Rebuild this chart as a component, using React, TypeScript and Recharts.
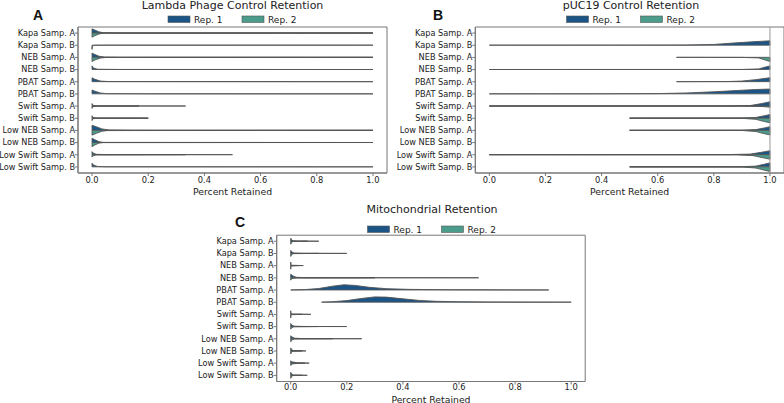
import { ComposedChart, Bar, XAxis, YAxis, ReferenceLine, ReferenceArea, Label } from 'recharts';

// [percent retained, half width of the violin as a fraction of the row height]
type Knot = [number, number];
type Profile = Knot[] | null;

const CATEGORIES = [
  'Kapa Samp. A', 'Kapa Samp. B', 'NEB Samp. A', 'NEB Samp. B',
  'PBAT Samp. A', 'PBAT Samp. B', 'Swift Samp. A', 'Swift Samp. B',
  'Low NEB Samp. A', 'Low NEB Samp. B', 'Low Swift Samp. A', 'Low Swift Samp. B',
];
const X_TICKS = [0, 0.2, 0.4, 0.6, 0.8, 1.0];
const REPS = ['Rep. 1', 'Rep. 2'];
const REP_COLORS = ['#1b5486', '#4b9c8b'];

// Lambda phage control
const lambdaRep1: Profile[] = [
  [[0, 0.35], [0.01, 0.24], [0.025, 0.09], [0.042, 0.02], [0.1, 0.004], [1, 0]],
  null,
  [[0, 0.35], [0.01, 0.24], [0.025, 0.09], [0.044, 0.02], [0.1, 0.004], [1, 0]],
  [[0, 0.3], [0.005, 0.12], [0.02, 0.02], [0.1, 0.003], [1, 0]],
  [[0, 0.32], [0.01, 0.2], [0.03, 0.05], [0.06, 0.008], [1, 0]],
  [[0, 0.32], [0.01, 0.22], [0.03, 0.07], [0.05, 0.015], [0.2, 0.003], [1, 0]],
  [[0, 0.2], [0.004, 0.05], [0.02, 0.01], [0.333, 0]],
  [[0, 0.2], [0.003, 0.05], [0.02, 0.005], [0.2, 0]],
  [[0, 0.42], [0.015, 0.3], [0.035, 0.12], [0.06, 0.03], [0.15, 0.005], [1, 0]],
  [[0, 0.36], [0.01, 0.23], [0.025, 0.07], [0.04, 0.01], [1, 0]],
  [[0, 0.25], [0.005, 0.12], [0.015, 0.03], [0.05, 0.005], [0.5, 0]],
  [[0, 0.3], [0.005, 0.15], [0.02, 0.03], [0.05, 0.005], [1, 0]],
];
const lambdaRep2: Profile[] = [
  [[0, 0.35], [0.01, 0.22], [0.025, 0.08], [0.04, 0.015], [1, 0]],
  [[0, 0.35], [0.001, 0.05], [0.01, 0.01], [0.05, 0.002], [1, 0]],
  [[0, 0.35], [0.01, 0.22], [0.03, 0.06], [0.05, 0.01], [1, 0]],
  null,
  null,
  null,
  [[0, 0.2], [0.004, 0.05], [0.02, 0.01], [0.167, 0]],
  [[0, 0.2], [0.003, 0.05], [0.02, 0.005], [0.2, 0]],
  [[0, 0.4], [0.015, 0.25], [0.035, 0.08], [0.055, 0.02], [1, 0]],
  [[0, 0.35], [0.01, 0.2], [0.025, 0.05], [0.04, 0.01], [1, 0]],
  [[0, 0.2], [0.005, 0.08], [0.015, 0.02], [0.333, 0]],
  null,
];

// pUC19 control
const pucRep1: Profile[] = [
  null,
  [[0, 0], [0.5, 0.003], [0.7, 0.01], [0.8, 0.06], [0.87, 0.18], [0.95, 0.3], [1, 0.36]],
  null,
  [[0, 0], [0.9, 0.005], [0.96, 0.05], [0.98, 0.18], [1, 0.3]],
  [[0.667, 0], [0.85, 0.01], [0.9, 0.05], [0.95, 0.17], [1, 0.33]],
  [[0, 0], [0.4, 0.005], [0.6, 0.02], [0.7, 0.07], [0.8, 0.17], [0.9, 0.3], [0.95, 0.36], [1, 0.4]],
  [[0, 0], [0.85, 0.005], [0.93, 0.04], [0.97, 0.2], [1, 0.35]],
  [[0.5, 0], [0.9, 0.01], [0.95, 0.06], [0.98, 0.2], [1, 0.3]],
  [[0.5, 0], [0.9, 0.01], [0.95, 0.06], [0.98, 0.2], [1, 0.3]],
  null,
  [[0, 0], [0.85, 0.005], [0.93, 0.05], [0.97, 0.2], [1, 0.33]],
  [[0.5, 0], [0.9, 0.01], [0.95, 0.06], [0.98, 0.22], [1, 0.33]],
];
const pucRep2: Profile[] = [
  null,
  null,
  [[0.667, 0], [0.9, 0.005], [0.96, 0.05], [0.98, 0.2], [1, 0.35]],
  null,
  null,
  null,
  [[0, 0], [0.9, 0.005], [0.97, 0.04], [1, 0.1]],
  [[0.5, 0], [0.9, 0.01], [0.95, 0.1], [0.98, 0.28], [1, 0.38]],
  [[0.5, 0], [0.9, 0.01], [0.95, 0.1], [0.98, 0.28], [1, 0.38]],
  null,
  [[0, 0], [0.88, 0.005], [0.94, 0.08], [0.98, 0.28], [1, 0.38]],
  [[0.5, 0], [0.9, 0.01], [0.95, 0.1], [0.98, 0.28], [1, 0.38]],
];

// Mitochondrial reads
const mitoRep1: Profile[] = [
  [[0, 0.25], [0.003, 0.1], [0.01, 0.03], [0.03, 0.005], [0.1, 0]],
  [[0, 0.25], [0.004, 0.12], [0.012, 0.03], [0.04, 0.005], [0.2, 0]],
  [[0, 0.3], [0.001, 0.03], [0.045, 0]],
  [[0, 0.3], [0.008, 0.15], [0.02, 0.04], [0.05, 0.008], [0.67, 0]],
  [[0, 0], [0.05, 0.03], [0.1, 0.12], [0.15, 0.32], [0.19, 0.43], [0.23, 0.38], [0.28, 0.22], [0.34, 0.11], [0.42, 0.05], [0.55, 0.02], [0.7, 0.008], [0.92, 0]],
  [[0.11, 0], [0.15, 0.04], [0.2, 0.13], [0.25, 0.3], [0.3, 0.44], [0.34, 0.42], [0.4, 0.28], [0.46, 0.14], [0.52, 0.07], [0.6, 0.035], [0.7, 0.015], [0.85, 0.005], [1, 0]],
  [[0, 0.3], [0.001, 0.03], [0.072, 0]],
  [[0, 0.25], [0.004, 0.12], [0.012, 0.03], [0.05, 0.005], [0.2, 0]],
  [[0, 0.25], [0.004, 0.15], [0.015, 0.04], [0.05, 0.008], [0.253, 0]],
  [[0, 0.25], [0.003, 0.1], [0.01, 0.03], [0.054, 0]],
  [[0, 0.2], [0.004, 0.1], [0.012, 0.08], [0.025, 0.02], [0.066, 0]],
  [[0, 0.25], [0.003, 0.1], [0.01, 0.02], [0.059, 0]],
];
const mitoRep2: Profile[] = [
  [[0, 0.25], [0.003, 0.08], [0.01, 0.02], [0.06, 0]],
  [[0, 0.25], [0.004, 0.08], [0.01, 0.02], [0.1, 0]],
  [[0, 0.3], [0.001, 0.03], [0.03, 0]],
  [[0, 0.2], [0.004, 0.05], [0.02, 0.01], [0.3, 0]],
  null,
  null,
  [[0, 0.3], [0.001, 0.03], [0.04, 0]],
  [[0, 0.22], [0.004, 0.08], [0.012, 0.02], [0.1, 0]],
  [[0, 0.25], [0.004, 0.1], [0.012, 0.02], [0.06, 0.004], [0.15, 0]],
  [[0, 0.25], [0.003, 0.08], [0.01, 0.02], [0.04, 0]],
  [[0, 0.2], [0.004, 0.08], [0.012, 0.05], [0.03, 0.01], [0.05, 0]],
  [[0, 0.25], [0.003, 0.07], [0.01, 0.02], [0.04, 0]],
];

const FONT = '"DejaVu Sans", sans-serif';
const EDGE = '#555';
const FRAME = '#777';
const TEXT = '#222';

function buildRows(rep1: Profile[], rep2: Profile[]) {
  return CATEGORIES.map((name, i) => {
    const vals = [...(rep1[i] ?? []), ...(rep2[i] ?? [])].map((k) => k[0]);
    return {
      name,
      rep1: rep1[i],
      rep2: rep2[i],
      range: vals.length ? [Math.min(...vals), Math.max(...vals)] : null,
    };
  });
}

function ViolinShape(props: any) {
  const { x, y, width, height, payload } = props;
  if (!payload || !payload.range || !isFinite(x) || !isFinite(width)) return <g />;
  const [lo, hi] = payload.range;
  const cy = y + height / 2;
  const px = (v: number) => x + ((v - lo) / (hi - lo)) * width;
  const half = (knots: Knot[], dir: number, color: string) => {
    const pts = knots.map(([v, w]) => `${px(v)},${cy + dir * w * height}`);
    pts.push(`${px(knots[knots.length - 1][0])},${cy}`, `${px(knots[0][0])},${cy}`);
    return (
      <polygon points={pts.join(' ')} fill={color} stroke={EDGE} strokeWidth={0.9} strokeLinejoin="round" />
    );
  };
  return (
    <g>
      {payload.rep1 && half(payload.rep1, -1, REP_COLORS[0])}
      {payload.rep2 && half(payload.rep2, 1, REP_COLORS[1])}
    </g>
  );
}

function CategoryTick(props: any) {
  const { x, y, payload } = props;
  return (
    <text x={x} y={y} dy="0.34em" textAnchor="end" fontSize={8.2} fill={TEXT} fontFamily={FONT}>
      {payload.value}
    </text>
  );
}

interface PanelProps {
  left: number;
  top: number;
  width: number;
  height: number;
  margin: { top: number; right: number; bottom: number; left: number };
  yWidth: number;
  xHeight: number;
  tickGap: number;
  labelOffset: number;
  rows: ReturnType<typeof buildRows>;
  refLine?: number;
}

function Panel({ left, top, width, height, margin, yWidth, xHeight, tickGap, labelOffset, rows, refLine }: PanelProps) {
  return (
    <div style={{ position: 'absolute', left, top }}>
      <ComposedChart width={width} height={height} data={rows} layout="vertical" margin={margin} barCategoryGap={0} barGap={0}>
        <XAxis
          xAxisId="v"
          type="number"
          domain={[-0.05, 1.05]}
          allowDataOverflow
          ticks={X_TICKS}
          tickFormatter={(v: number) => v.toFixed(1)}
          height={xHeight}
          tickSize={3}
          tickMargin={tickGap}
          stroke={FRAME}
          tick={{ fontSize: 8.3, fill: TEXT, fontFamily: FONT }}
        >
          <Label value="Percent Retained" position="insideBottom" offset={labelOffset} style={{ fontSize: 9.3, fill: TEXT, fontFamily: FONT }} />
        </XAxis>
        <YAxis
          yAxisId="c"
          type="category"
          dataKey="name"
          width={yWidth}
          interval={0}
          tickSize={3}
          tickMargin={0}
          stroke={FRAME}
          tick={CategoryTick}
        />
        <ReferenceArea xAxisId="v" yAxisId="c" x1={-0.05} x2={1.05} fill="none" stroke={FRAME} strokeWidth={1} ifOverflow="visible" />
        {refLine !== undefined && (
          <ReferenceLine xAxisId="v" yAxisId="c" x={refLine} stroke="#999" strokeWidth={1} />
        )}
        <Bar xAxisId="v" yAxisId="c" dataKey="range" shape={ViolinShape} isAnimationActive={false} />
      </ComposedChart>
    </div>
  );
}

function Header({ cx, titleY, title, legendY, letter, letterX, letterY }: any) {
  const patchW = 22;
  const offs = [-64.5, 9.5];
  return (
    <g fontFamily={FONT}>
      <text x={cx} y={titleY} textAnchor="middle" fontSize={11} fill={TEXT}>{title}</text>
      {REPS.map((r, i) => (
        <g key={r}>
          <rect x={cx + offs[i]} y={legendY} width={patchW} height={6.5} fill={REP_COLORS[i]} stroke={EDGE} strokeWidth={0.6} />
          <text x={cx + offs[i] + patchW + 4} y={legendY + 6.5} fontSize={9} fill={TEXT}>{r}</text>
        </g>
      ))}
      <text x={letterX} y={letterY} fontSize={14} fontWeight="bold" fontFamily='"Liberation Sans", Arial, sans-serif' fill="#111">{letter}</text>
    </g>
  );
}

export default function App() {
  const lambdaRows = buildRows(lambdaRep1, lambdaRep2);
  const pucRows = buildRows(pucRep1, pucRep2);
  const mitoRows = buildRows(mitoRep1, mitoRep2);
  return (
    <div style={{ position: 'absolute', left: 0, top: 0, width: 784, height: 403, overflow: 'hidden', background: '#fff' }}>
      <Panel left={0} top={0} width={400} height={200} margin={{ top: 27, right: 13, bottom: 0, left: 0 }} yWidth={78} xHeight={27} tickGap={1} labelOffset={5.5} rows={lambdaRows} />
      <Panel left={390} top={0} width={400} height={200} margin={{ top: 27, right: 6, bottom: 0, left: 0 }} yWidth={85.3} xHeight={27} tickGap={1} labelOffset={5.5} rows={pucRows} refLine={1} />
      <Panel left={180} top={200} width={420} height={215} margin={{ top: 35.2, right: 14.8, bottom: 0, left: 0 }} yWidth={96.7} xHeight={33.5} tickGap={0} labelOffset={12.5} rows={mitoRows} />
      <svg width={784} height={403} style={{ position: 'absolute', left: 0, top: 0, pointerEvents: 'none' }}>
        <Header cx={232.5} titleY={9} title="Lambda Phage Control Retention" legendY={16} letter="A" letterX={33} letterY={19.5} />
        <Header cx={631} titleY={9} title="pUC19 Control Retention" legendY={16} letter="B" letterX={433} letterY={19.5} />
        <Header cx={432} titleY={213.3} title="Mitochondrial Retention" legendY={226} letter="C" letterX={235} letterY={226.7} />
      </svg>
    </div>
  );
}
